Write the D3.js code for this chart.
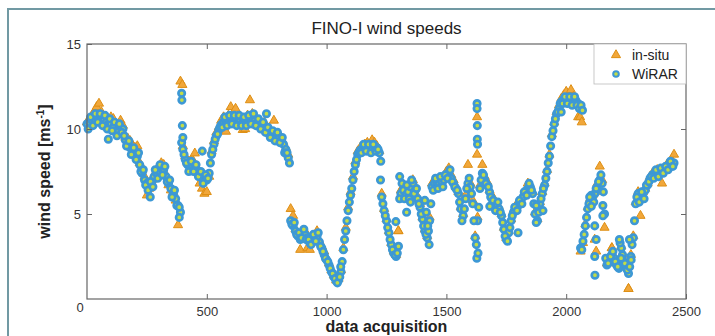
<!DOCTYPE html>
<html>
<head>
<meta charset="utf-8">
<script src="https://cdn.jsdelivr.net/npm/d3@7"></script>
<style>
  body { margin: 0; background: #fff; }
  svg { display: block; font-family: "Liberation Sans", Arial, sans-serif; }
</style>
</head>
<body>
<div id="chart"></div>
<script>
// acquisition step between samples in the main arrays
const step = 10;

// WiRAR wind speed [m/s] at acquisitions 0, 10, 20, ...
const wirar = [
  10.3, 10.4, 10.5, 10.6, 10.7, 10.7, 10.6, 10.5, 10.4, 10.3,
  10.3, 10.1, 9.9, 9.85, 10.1, 10.0, 9.35, 9.1, 8.9, 8.7,
  8.6, 8.4, 7.9, 7.4, 7.0, 6.8, 6.6, 6.9, 7.2, 7.4,
  7.5, 7.7, 7.6, 7.2, 6.8, 6.5, 6.2, 5.9, 5.5, 5.1,
  8.8, 8.2, 7.9, 7.8, 7.8, 7.8, 7.5, 7.3, 7.1, 7.0,
  7.0, 7.4, 8.5, 9.1, 9.6, 9.95, 10.25, 10.4, 10.45, 10.5,
  10.6, 10.6, 10.5, 10.5, 10.5, 10.4, 10.5, 10.5, 10.6, 10.6,
  10.5, 10.4, 10.3, 10.2, 10.1, 9.9, 9.8, 9.7, 9.6, 9.55,
  9.5, 9.3, 9.1, 8.8, 8.3, 4.6, 4.3, 4.0, 3.7, 3.5,
  3.8, 3.8, 3.6, 3.3, 3.45, 3.6, 3.65, 3.35, 3.0, 2.6,
  2.3, 2.0, 1.6, 1.3, 1.05, 1.1, 1.6, 2.9, 4.0, 5.2,
  6.1, 7.0, 7.9, 8.5, 8.75, 8.85, 8.9, 8.9, 8.8, 8.85,
  9.0, 8.9, 8.6, 6.0, 5.2, 4.6, 3.9, 3.2, 2.7, 2.5,
  3.1, 6.2, 6.4, 6.1, 6.3, 6.6, 6.8, 6.4, 5.9, 5.4,
  4.7, 4.0, 3.6, 4.6, 6.6, 6.8, 6.8, 6.8, 6.9, 7.0,
  7.2, 7.4, 7.1, 6.8, 6.5, 6.2, 5.3, 4.9, 5.9, 6.8,
  6.6, 5.6, 3.6, 4.6, 6.5, 7.4, 7.0, 6.7, 6.3, 5.9,
  5.5, 5.45, 5.3, 4.9, 4.1, 3.5, 3.9, 4.6, 5.1, 5.4,
  5.5, 5.7, 6.0, 6.3, 6.5, 6.6, 6.2, 5.0, 4.6, 5.6,
  6.2, 6.7, 7.5, 8.4, 9.55, 10.3, 10.9, 11.2, 11.6, 11.75,
  11.8, 11.8, 11.7, 11.7, 11.7, 11.5, 3.0, 3.4, 4.3, 5.3,
  5.8, 6.0, 6.2, 6.6, 7.0, 6.8, 5.0, 2.0, 2.3, 2.6,
  2.4, 2.0, 1.8, 3.0, 2.2, 1.9, 1.5, 2.5, 3.6, 5.6,
  6.2, 6.0, 6.2, 6.4, 6.7, 7.1, 7.3, 7.4, 7.5, 7.5,
  7.6, 7.6, 7.8, 7.9, 8.0, 8.0
];

// WiRAR wind speed [m/s] at the in-between acquisitions 5, 15, 25, ...
const wirarMid = [
  10.0, 10.7, 10.2, 10.9, 10.4, 10.9, 10.2, 10.8, 10.0, 10.6,
  9.9, 10.4, 9.6, 10.3, 9.8, 9.6, 9.0, 9.3, 8.5, 8.9,
  8.2, 8.6, 7.5, 7.6, 6.7, 6.4, 6.9, 6.6, 7.6, 7.1,
  7.9, 7.3, 7.8, 6.9, 7.0, 6.0, 6.4, 5.5, 5.4, 9.2,
  8.5, 8.0, 7.5, 8.1, 7.5, 7.9, 7.2, 7.5, 6.8, 7.3,
  7.1, 8.0, 8.8, 9.4, 9.7, 10.1, 10.1, 10.7, 10.2, 10.8,
  10.3, 10.8, 10.2, 10.8, 10.2, 10.7, 10.2, 10.8, 10.3, 10.9,
  10.2, 10.6, 10.0, 10.4, 9.8, 10.1, 9.5, 9.9, 9.3, 9.8,
  9.2, 9.5, 8.6, 8.6, 8.0, 4.4, 4.5, 3.8, 3.9, 3.6,
  4.1, 3.5, 3.5, 3.2, 3.8, 3.4, 3.9, 3.1, 2.8, 2.4,
  2.2, 1.8, 1.5, 1.2, 0.95, 1.3, 2.2, 3.5, 4.6, 5.7,
  6.5, 7.5, 8.2, 8.6, 8.6, 9.1, 8.7, 9.1, 8.6, 9.1,
  8.7, 8.8, 7.0, 5.6, 4.9, 4.2, 3.5, 2.9, 2.6, 2.7,
  5.9, 6.8, 5.9, 6.7, 5.9, 7.0, 6.2, 6.5, 5.6, 5.0,
  4.3, 3.8, 4.0, 5.6, 6.4, 7.1, 6.5, 7.2, 6.6, 7.3,
  7.1, 7.6, 6.9, 6.6, 6.4, 5.7, 4.6, 5.3, 6.5, 7.1,
  6.2, 4.6, 3.2, 5.4, 7.0, 7.3, 6.8, 6.6, 6.0, 5.8,
  5.2, 5.7, 5.1, 4.5, 3.7, 3.4, 4.2, 4.9, 5.4, 5.2,
  5.8, 5.6, 6.3, 6.1, 6.8, 6.4, 5.6, 4.5, 5.1, 5.9,
  6.5, 7.1, 8.0, 9.0, 9.9, 10.6, 11.0, 11.5, 11.5, 11.9,
  11.5, 11.9, 11.4, 11.9, 11.4, 11.2, 2.9, 3.8, 4.8, 5.6,
  6.1, 5.7, 6.5, 6.9, 7.3, 6.3, 2.4, 2.1, 2.5, 2.8,
  2.2, 1.9, 3.3, 2.6, 2.1, 1.7, 1.9, 3.2, 4.6, 6.0,
  5.7, 6.3, 5.9, 6.7, 6.9, 7.2, 7.1, 7.6, 7.2, 7.7,
  7.4, 7.8, 7.6, 8.1, 7.8
];

// in-situ wind speed [m/s] at acquisitions 0, 10, 20, ...
const insitu = [
  10.4, 10.6, 10.8, 11.0, 11.3, 11.5, 11.0, 10.7, 10.6, 10.5,
  10.7, 10.6, 10.0, 9.7, 10.5, 10.2, 9.5, 9.45, 9.3, 9.0,
  8.9, 9.0, 8.0, 7.6, 7.2, 6.1, 6.5, 7.0, 7.3, 7.6,
  7.8, 8.0, 7.9, 7.3, 6.7, 6.4, 6.3, 5.8, 4.35, 12.8,
  9.0, 8.4, 8.0, 8.1, 8.2, 8.57, 7.7, 6.8, 6.5, 6.2,
  6.3, 7.2, 8.7, 9.3, 9.8, 10.1, 10.5, 10.7, 9.85, 10.8,
  11.3, 10.9, 11.2, 10.7, 10.4, 9.95, 10.0, 10.8, 11.7, 10.9,
  10.6, 10.2, 10.5, 10.3, 10.4, 10.1, 9.9, 9.8, 10.5, 9.6,
  9.4, 9.5, 9.2, 8.9, 8.5, 5.3, 4.9, 4.1, 3.8, 2.9,
  3.9, 4.0, 3.0, 2.9, 3.5, 3.7, 4.0, 3.4, 3.1, 2.8,
  2.4, 2.1, 1.7, 1.4, 1.1, 1.2, 1.7, 3.0, 4.2, 5.4,
  6.3, 7.2, 8.1, 8.7, 8.9, 9.0, 9.1, 9.2, 9.0, 9.35,
  9.2, 9.0, 8.7, 6.2, 5.3, 4.7, 4.0, 3.3, 2.8, 2.6,
  4.0, 6.4, 6.6, 6.3, 6.5, 6.9, 7.0, 6.6, 6.0, 5.6,
  4.8, 4.1, 3.7, 4.8, 6.8, 7.0, 6.9, 7.0, 7.1, 7.2,
  7.5, 7.7, 7.3, 7.0, 6.6, 6.3, 5.4, 5.0, 6.1, 7.9,
  6.8, 5.8, 3.7, 4.8, 6.7, 7.9, 7.2, 6.9, 6.4, 6.1,
  5.6, 5.6, 5.4, 5.0, 4.2, 3.6, 4.0, 4.7, 5.2, 5.5,
  5.6, 5.8, 6.1, 6.4, 6.8, 6.7, 6.3, 5.1, 4.7, 5.7,
  6.3, 6.8, 7.6, 8.5, 9.7, 10.4, 11.0, 11.4, 11.8, 12.0,
  12.2, 12.0, 12.3, 11.9, 11.4, 10.7, 2.8, 3.3, 4.4, 5.4,
  5.9, 6.1, 6.3, 6.8, 7.8, 7.0, 4.2, 2.1, 2.4, 3.0,
  2.5, 2.1, 1.9, 3.1, 2.3, 2.0, 0.6, 2.6, 3.7, 5.7,
  6.3, 4.9, 6.3, 6.5, 6.8, 7.2, 7.4, 7.5, 7.6, 7.6,
  6.8, 7.7, 7.9, 8.0, 8.2, 8.5
];

// isolated WiRAR readings away from the main band: [acquisition, speed]
const wirarExtra = [
  [395, 12.1], [396, 11.7], [398, 10.2], [400, 9.5], [89, 9.4], [264, 6.0],
  [385, 4.8], [481, 8.7], [749, 10.9], [1059, 1.9], [1226, 8.1],
  [1289, 4.55], [1305, 7.2], [1334, 5.1], [1350, 5.7], [1410, 5.8],
  [1416, 5.1], [1422, 4.3], [1428, 3.2], [1628, 11.5], [1628, 11.2],
  [1629, 10.2], [1629, 9.4], [1630, 9.1], [1627, 2.4], [1632, 2.7],
  [1681, 5.45], [1799, 3.9], [1875, 5.5], [1903, 5.2], [1979, 11.0],
  [2062, 11.4], [2068, 11.1],
  [2098, 6.0], [2105, 5.45], [2119, 4.3], [2125, 3.5], [2119, 2.5],
  [2120, 1.4], [2153, 5.5], [2153, 4.9], [2222, 3.5], [2229, 2.4],
  [2264, 3.5], [2271, 2.3]
];

// isolated in-situ readings: [acquisition, speed]
const insituExtra = [
  [398, 12.6], [1628, 10.7], [1628, 8.5], [2058, 10.7], [2065, 10.4],
  [2119, 3.5], [2125, 2.8], [2191, 3.0], [2260, 0.6], [1299, 4.0]
];

const xTicks = [0, 500, 1000, 1500, 2000, 2500];
const yTicks = [5, 10, 15];

const W = 715, H = 336;
const margin = { top: 44, right: 29, bottom: 37, left: 87 };
const width = W - margin.left - margin.right;
const height = H - margin.top - margin.bottom;

const svg = d3.select('#chart').append('svg')
  .attr('width', W)
  .attr('height', H);

// outer figure frame
svg.append('rect')
  .attr('x', 8).attr('y', 9)
  .attr('width', W + 10).attr('height', H + 10)
  .attr('fill', 'none')
  .attr('stroke', '#7199a3')
  .attr('stroke-width', 2);

const x = d3.scaleLinear().domain([0, 2500]).range([0, width]);
const y = d3.scaleLinear().domain([0, 15]).range([height, 0]);

const chart = svg.append('g')
  .attr('transform', `translate(${margin.left}, ${margin.top})`);

const toPoints = (arr, offset) => arr.map((v, i) => [i * step + offset, v]);
const insituPts = toPoints(insitu, 0).concat(insituExtra);
const wirarPts = toPoints(wirar, 0).concat(toPoints(wirarMid, step / 2)).concat(wirarExtra);

// in-situ triangles first, WiRAR circles drawn on top
const tri = d3.symbol().type(d3.symbolTriangle).size(36);
chart.append('g').selectAll('path')
  .data(insituPts)
  .enter().append('path')
    .attr('d', tri)
    .attr('transform', d => `translate(${x(d[0])}, ${y(d[1])})`)
    .attr('fill', '#f1a73a')
    .attr('stroke', '#de8f14')
    .attr('stroke-width', 1);

chart.append('g').selectAll('circle')
  .data(wirarPts)
  .enter().append('circle')
    .attr('cx', d => x(d[0]))
    .attr('cy', d => y(d[1]))
    .attr('r', 3.2)
    .attr('fill', '#c2dc46')
    .attr('stroke', '#3d98d5')
    .attr('stroke-width', 2.7);

// axes box with inward ticks (bottom/left labelled, top/right plain)
const tickLen = 5;
const axisStyle = g => {
  g.select('.domain').remove();
  g.selectAll('.tick line').attr('stroke', '#666');
  g.selectAll('.tick text').attr('fill', '#333').style('font-size', '13px');
};

chart.append('g')
  .attr('transform', `translate(0, ${height})`)
  .call(d3.axisBottom(x).tickValues(xTicks.slice(1)).tickFormat(d3.format('d'))
    .tickSizeInner(-tickLen).tickSizeOuter(0).tickPadding(8))
  .call(axisStyle);
chart.append('g')
  .call(d3.axisTop(x).tickValues(xTicks.slice(1, -1)).tickSizeInner(-tickLen).tickSizeOuter(0).tickFormat(''))
  .call(axisStyle);
chart.append('g')
  .call(d3.axisLeft(y).tickValues(yTicks).tickSizeInner(-tickLen).tickSizeOuter(0).tickPadding(6))
  .call(axisStyle);
chart.append('g')
  .attr('transform', `translate(${width}, 0)`)
  .call(d3.axisRight(y).tickValues(yTicks.slice(0, -1)).tickSizeInner(-tickLen).tickSizeOuter(0).tickFormat(''))
  .call(axisStyle);

// shared origin label
chart.append('text')
  .attr('x', x(0) - 7)
  .attr('y', y(0) + 13)
  .attr('text-anchor', 'middle')
  .attr('fill', '#333')
  .style('font-size', '13px')
  .text(xTicks[0]);

chart.append('rect')
  .attr('width', width).attr('height', height)
  .attr('fill', 'none')
  .attr('stroke', '#666')
  .attr('stroke-width', 1.2);

// title and axis labels
svg.append('text')
  .attr('x', margin.left + width / 2)
  .attr('y', 34)
  .attr('text-anchor', 'middle')
  .attr('fill', '#222')
  .style('font-size', '17px')
  .text('FINO-I wind speeds');

svg.append('text')
  .attr('x', margin.left + width / 2)
  .attr('y', 332)
  .attr('text-anchor', 'middle')
  .attr('fill', '#222')
  .style('font-size', '16px')
  .style('font-weight', 'bold')
  .text('data acquisition');

const yLabel = svg.append('text')
  .attr('transform', `translate(50, ${margin.top + height / 2}) rotate(-90)`)
  .attr('text-anchor', 'middle')
  .attr('fill', '#222')
  .style('font-size', '16px')
  .style('font-weight', 'bold');
yLabel.append('tspan').text('wind speed [ms');
yLabel.append('tspan').attr('dy', -6).style('font-size', '10px').text('-1');
yLabel.append('tspan').attr('dy', 6).text(']');

// legend
const legend = chart.append('g')
  .attr('transform', `translate(${width - 92}, 0)`);
legend.append('rect')
  .attr('width', 92).attr('height', 40)
  .attr('fill', '#fff')
  .attr('stroke', '#bbb')
  .attr('stroke-width', 0.8);
legend.append('path')
  .attr('d', tri)
  .attr('transform', 'translate(22, 11)')
  .attr('fill', '#f1a73a')
  .attr('stroke', '#de8f14');
legend.append('circle')
  .attr('cx', 22).attr('cy', 30).attr('r', 2.8)
  .attr('fill', '#c2dc46')
  .attr('stroke', '#3d98d5')
  .attr('stroke-width', 2);
legend.append('text').attr('x', 38).attr('y', 16)
  .attr('fill', '#222').style('font-size', '14px').text('in-situ');
legend.append('text').attr('x', 38).attr('y', 35)
  .attr('fill', '#222').style('font-size', '14px').text('WiRAR');
</script>
</body>
</html>
